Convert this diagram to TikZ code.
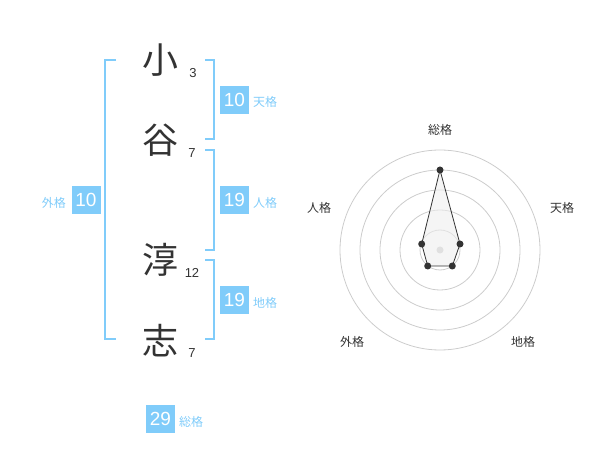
\documentclass[tikz,border=0pt]{standalone}
\usepackage{fontspec}
\setmainfont{Liberation Sans}
\newfontfamily\cjk{Noto Sans CJK JP}
\definecolor{skyb}{RGB}{128,204,250}
\definecolor{dark}{RGB}{51,51,51}
\definecolor{ring}{RGB}{204,204,204}
\definecolor{polyfill}{RGB}{238,238,238}
\begin{document}
\begin{tikzpicture}[x=1pt,y=-1pt,
  kanji/.style={font=\cjk\fontsize{36}{36}\selectfont, text=dark, inner sep=0},
  stroke/.style={font=\fontsize{13}{13}\selectfont, text=dark, inner sep=0},
  numbox/.style={fill=skyb, text=white, minimum width=29, minimum height=28, inner sep=0, font=\fontsize{19}{19}\selectfont},
  kaku/.style={font=\cjk\fontsize{12}{12}\selectfont, text=skyb, inner sep=0},
  bracket/.style={draw=skyb, line width=2pt},
  rlabel/.style={font=\cjk\fontsize{12}{12}\selectfont, text=dark, inner sep=0},
  ringline/.style={draw=ring, line width=0.8pt},
  dot/.style={circle, fill=dark, inner sep=0, minimum size=7}]
\useasboundingbox (0,0) rectangle (600,470);
% name characters
\node[kanji] (k1) at (160,60) {小};
\node[kanji] (k2) at (160,140) {谷};
\node[kanji] (k3) at (160,260) {淳};
\node[kanji] (k4) at (160,341) {志};
\node[stroke] (s1) at (193,73) {3};
\node[stroke] (s2) at (192,153) {7};
\node[stroke] (s3) at (192,273) {12};
\node[stroke] (s4) at (192,353) {7};
% brackets
\draw[bracket] (116,60) -- (105,60) -- (105,339) -- (116,339);
\draw[bracket] (205,60) -- (214,60) -- (214,139) -- (205,139);
\draw[bracket] (205,150) -- (214,150) -- (214,250) -- (205,250);
\draw[bracket] (205,260) -- (214,260) -- (214,339) -- (205,339);
% boxes
\node[numbox] (ten) at (234.5,100) {10};
\node[kaku, anchor=west] (tenl) at (253,102) {天格};
\node[numbox] (jin) at (234.5,200) {19};
\node[kaku, anchor=west] (jinl) at (253,203) {人格};
\node[numbox] (chi) at (234.5,300) {19};
\node[kaku, anchor=west] (chil) at (253,303) {地格};
\node[numbox] (gai) at (86,200) {10};
\node[kaku, anchor=east] (gail) at (66,203) {外格};
\node[numbox] (sou) at (160.5,419) {29};
\node[kaku, anchor=west] (soul) at (179,422) {総格};
% radar
\coordinate (c) at (440,250);
\foreach \r in {20,40,60,80,100} \draw[ringline] (c) circle[radius=\r];
\node[circle, fill=ring, inner sep=0, minimum size=7] (cd) at (c) {};
\coordinate (pS) at (440,170);
\coordinate (pT) at (460,244);
\coordinate (pC) at (452.3,266);
\coordinate (pG) at (427.7,266);
\coordinate (pJ) at (421.7,244);
\draw[dark, fill=polyfill, fill opacity=0.6, line width=0.8pt] (pS) -- (pT) -- (pC) -- (pG) -- (pJ) -- cycle;
\foreach \p in {pS,pT,pC,pG,pJ} \node[dot] at (\p) {};
\node[rlabel] (lS) at (440,130) {総格};
\node[rlabel] (lT) at (562,208) {天格};
\node[rlabel] (lJ) at (319,208) {人格};
\node[rlabel] (lG) at (352,342) {外格};
\node[rlabel] (lC) at (523,342) {地格};
\end{tikzpicture}
\end{document}
